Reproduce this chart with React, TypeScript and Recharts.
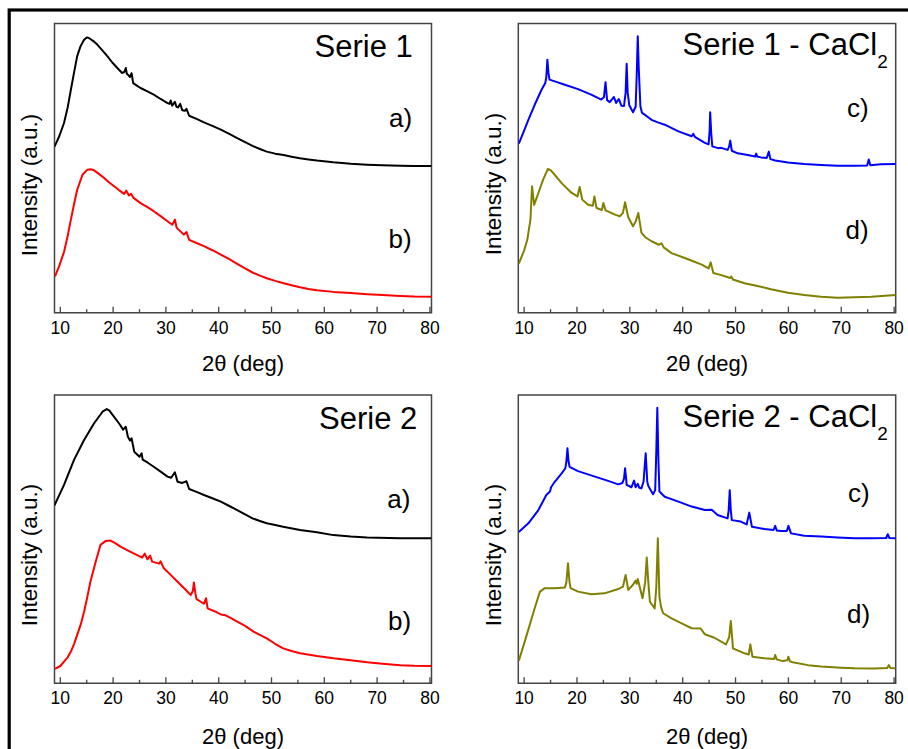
import React from 'react';
import { LineChart, Line, XAxis, YAxis, ReferenceArea } from 'recharts';

type Pt = [number, number];

// 2θ ticks (major every 10, minor every 5)
const xTicks: number[] = [10, 15, 20, 25, 30, 35, 40, 45, 50, 55, 60, 65, 70, 75, 80];
const X_DOMAIN: [number, number] = [8.9, 80.3];

// Serie 1 – a) (black)
const serie1A: Pt[] = [
  [8.9, 57.4], [9.8, 61.0], [10.7, 65.6], [11.4, 71], [12.0, 77.1], [12.6, 83], [13.2, 88.7], [13.8, 92],
  [14.5, 94.4], [15.0, 95.2], [15.4, 95.0], [16.2, 94.0], [17.0, 92.7], [18.0, 90.6], [18.9, 88.7], [19.8, 86.6],
  [20.8, 84.6], [21.7, 82.9], [22.1, 83.2], [22.4, 84.6], [22.6, 82.6], [22.8, 82.3], [23.2, 81.5], [23.5, 82.8],
  [23.8, 79.4], [24.5, 78.5], [25.2, 77.7], [26.5, 76.5], [27.7, 75.4], [29.0, 73.9], [30.3, 72.5], [30.7, 72.2],
  [30.9, 73.4], [31.2, 71.6], [31.7, 72.9], [32.0, 71.2], [32.3, 71.0], [32.7, 72.2], [33.1, 70.0], [33.6, 69.8],
  [33.9, 70.5], [34.4, 68.1], [35.8, 67.0], [37.2, 65.8], [38.8, 64.6], [40.4, 63.3], [42.0, 61.8], [43.5, 60.4],
  [45.0, 59.0], [46.4, 57.7], [47.8, 56.6], [49.1, 55.7], [50.7, 55.0], [52.3, 54.5], [53.8, 53.9], [55.4, 53.4],
  [57.0, 53.0], [58.6, 52.6], [61.7, 52.0], [65.0, 51.5], [68.1, 51.2], [71.0, 51.0], [74.4, 50.8], [77.0, 50.7],
  [80.3, 50.7],
];

// Serie 1 – b) (red)
const serie1B: Pt[] = [
  [9.0, 12.6], [9.8, 16.2], [10.7, 21.0], [11.4, 26.5], [12.0, 32.2], [12.6, 37.5], [13.2, 42.5], [14.2, 47.7],
  [15.1, 49.4], [15.8, 49.6], [16.4, 49.2], [17.3, 48.0], [18.3, 46.6], [19.2, 45.1], [20.2, 43.7], [21.1, 42.4],
  [22.1, 41.1], [22.5, 42.2], [23.0, 40.5], [23.4, 41.1], [23.8, 39.8], [25.2, 37.9], [26.5, 36.5], [27.7, 35.1],
  [29.0, 33.4], [30.3, 31.6], [31.2, 30.4], [31.7, 32.2], [32.0, 29.6], [32.3, 28.9], [33.4, 27.0], [33.9, 27.9],
  [34.4, 25.2], [35.8, 24.1], [37.2, 23.0], [38.8, 21.6], [40.4, 20.1], [42.0, 18.5], [43.5, 16.9], [45.0, 15.3],
  [46.4, 13.9], [47.8, 12.8], [49.1, 11.9], [50.7, 11.0], [52.3, 10.2], [53.8, 9.5], [55.4, 8.8], [57.0, 8.2],
  [58.6, 7.8], [61.7, 7.2], [65.0, 6.8], [68.1, 6.4], [71.0, 6.1], [74.4, 5.8], [77.0, 5.6], [80.3, 5.5],
];

// Serie 1 - CaCl2 – c) (blue)
const serie1C: Pt[] = [
  [9.0, 58.5], [10.0, 63.0], [10.8, 66.7], [12.0, 71.9], [13.3, 77.1], [14.0, 79.4], [14.2, 81.5], [14.4, 87.5],
  [14.6, 83], [14.8, 80.6], [15.8, 80.0], [17.7, 78.8], [20.2, 77.3], [22.7, 75.4], [24.6, 73.7], [25.1, 74.5],
  [25.4, 79.7], [25.7, 73.5], [26.2, 72.8], [27.0, 74.6], [27.4, 72.5], [27.9, 73.9], [28.4, 71.6], [28.9, 71.5],
  [29.2, 76], [29.4, 86.1], [29.6, 76], [29.9, 71.7], [30.6, 69.3], [31.1, 71.2], [31.3, 82], [31.5, 95.6],
  [31.7, 84], [32.0, 71.4], [32.3, 69.1], [32.8, 68.5], [34.1, 66.7], [35.3, 65.8], [36.6, 65.0], [39.2, 62.7],
  [41.7, 61.0], [42.0, 61.9], [42.3, 60.8], [44.2, 58.7], [44.9, 58.2], [45.1, 63], [45.2, 69.3], [45.4, 62],
  [45.6, 57.5], [46.7, 56.9], [47.3, 57.0], [48.5, 56.3], [48.8, 57.5], [49.0, 59.5], [49.3, 56.0], [50.4, 55.1],
  [52.3, 54.5], [53.7, 54.0], [53.9, 55.0], [54.1, 54.0], [54.8, 53.7], [55.9, 53.5], [56.3, 55.7], [56.6, 53.1],
  [57.5, 52.6], [59.9, 51.9], [63.0, 51.4], [66.2, 51.1], [69.3, 50.8], [72.5, 50.8], [74.9, 50.9], [75.2, 53.0],
  [75.5, 51.0], [77.5, 51.3], [80.3, 51.4],
];

// Serie 1 - CaCl2 – d) (olive)
const serie1D: Pt[] = [
  [9.0, 17.0], [10.0, 21.5], [10.6, 25.2], [11.2, 32.2], [11.5, 43.7], [11.9, 37.3], [12.7, 41.4], [13.6, 46.0],
  [14.5, 49.7], [15.0, 49.3], [15.5, 48.3], [17.1, 44.8], [19.0, 41.4], [20.1, 40.2], [20.5, 43.5], [21.0, 39.1],
  [22.1, 37.3], [23.0, 37.0], [23.3, 40.2], [23.7, 36.2], [24.7, 35.5], [25.0, 37.9], [25.4, 35.4], [27.2, 33.9],
  [28.1, 33.3], [28.7, 34.5], [29.1, 38.2], [29.7, 33.0], [30.6, 29.9], [31.1, 31.5], [31.6, 34.5], [32.2, 27.6],
  [33.0, 26.0], [34.1, 24.7], [35.5, 23.5], [36.0, 24.0], [36.4, 22.6], [37.9, 20.6], [40.4, 18.9], [42.0, 17.8],
  [43.6, 16.6], [44.9, 15.3], [45.3, 17.4], [45.8, 13.7], [47.3, 13.0], [49.0, 12.0], [49.2, 12.5], [49.5, 11.5],
  [51.7, 10.2], [54.8, 9.0], [56.7, 8.1], [59.9, 6.9], [63.0, 6.1], [66.2, 5.5], [69.3, 5.2], [72.5, 5.3],
  [75.7, 5.5], [80.3, 6.1],
];

// Serie 2 – a) (black)
const serie2A: Pt[] = [
  [8.9, 61.7], [10.7, 68.8], [12.6, 77.5], [14.5, 84.4], [16.4, 90.2], [18.0, 94.2], [18.8, 95.1], [19.3, 94.6],
  [19.9, 93.1], [21.1, 90.2], [21.9, 88.0], [22.4, 89.0], [22.8, 85.5], [23.2, 84.2], [23.5, 85.0], [24.0, 80.3],
  [25.0, 78.6], [25.4, 79.8], [25.6, 77.6], [26.5, 76.6], [27.7, 75.1], [29.0, 73.4], [30.3, 71.7], [31.0, 71.3],
  [31.7, 73.2], [32.2, 69.9], [33.1, 69.5], [33.9, 70.1], [34.4, 67.4], [35.8, 66.4], [37.2, 65.3], [38.8, 64.2],
  [40.4, 63.0], [42.0, 61.5], [43.5, 60.1], [45.0, 58.6], [46.4, 57.2], [47.8, 56.3], [49.1, 55.5], [50.7, 54.9],
  [52.2, 54.3], [55.4, 53.2], [58.6, 52.4], [61.7, 51.4], [65.0, 50.9], [68.1, 50.6], [74.4, 50.3], [80.3, 50.3],
];

// Serie 2 – b) (red)
const serie2B: Pt[] = [
  [9.0, 5.0], [10.0, 6.0], [10.7, 7.5], [11.4, 9.0], [12.0, 11.0], [12.6, 13.6], [13.2, 16.8], [13.9, 20.6],
  [14.5, 24.8], [15.1, 29.8], [15.7, 35.2], [16.7, 42.2], [17.6, 48.0], [18.6, 49.4], [19.5, 49.5], [20.4, 48.6],
  [21.4, 47.4], [23.3, 45.6], [25.5, 43.6], [26.0, 45.0], [26.5, 43.0], [27.0, 44.3], [27.4, 42.2], [28.7, 41.5],
  [29.0, 42.3], [29.6, 39.9], [30.9, 37.6], [32.2, 35.2], [33.5, 32.9], [34.7, 30.6], [35.1, 32], [35.3, 35.0],
  [35.6, 31], [35.8, 29.2], [37.2, 27.6], [37.6, 29.5], [37.9, 26.0], [39.2, 25.0], [40.4, 23.9], [41.3, 23.6],
  [42.4, 22.5], [43.5, 21.4], [45.0, 19.9], [46.6, 17.9], [47.8, 16.8], [49.1, 15.6], [50.6, 13.8], [52.2, 12.1],
  [53.8, 11.2], [55.4, 10.4], [56.3, 10.2], [58.6, 9.5], [61.7, 8.7], [65.0, 8.0], [68.1, 7.3], [71.0, 6.8],
  [74.4, 6.3], [77.0, 6.1], [80.3, 6.0],
];

// Serie 2 - CaCl2 – c) (blue)
const serie2C: Pt[] = [
  [9.0, 52.5], [10.8, 55.5], [12.7, 60.1], [14.2, 65.3], [14.9, 66.5], [15.1, 68.0], [15.8, 69.9], [17.1, 72.8],
  [17.8, 74.6], [18.0, 77], [18.2, 81.5], [18.4, 77], [18.6, 75.1], [20.2, 73.6], [23.4, 71.7], [25.9, 70.2],
  [27.8, 69.0], [28.6, 69.5], [28.9, 71], [29.1, 74.6], [29.3, 71], [29.4, 68.8], [30.3, 68.0], [30.8, 70.3],
  [31.1, 68.0], [31.5, 69.2], [31.8, 67.8], [32.2, 67.6], [32.6, 70], [33.0, 79.8], [33.3, 70], [33.5, 68.4],
  [34.4, 65.6], [34.8, 67], [35.0, 80], [35.2, 95.6], [35.4, 78], [35.6, 66.5], [36.6, 64.7], [39.2, 63.0],
  [41.7, 61.3], [44.2, 60.1], [45.5, 60.2], [46.6, 58.4], [48.5, 57.2], [48.7, 60], [48.9, 67.0], [49.1, 60],
  [49.3, 56.6], [51.0, 56.1], [52.1, 55.1], [52.6, 59.2], [53.1, 54.3], [55.5, 53.5], [57.2, 53.2], [57.5, 54.6],
  [57.8, 53.0], [58.6, 52.8], [59.7, 52.8], [60.0, 54.6], [60.5, 52.0], [63.0, 51.2], [66.2, 50.9], [69.3, 50.6],
  [72.5, 50.3], [75.7, 50.3], [78.5, 50.4], [78.8, 51.7], [79.1, 50.4], [80.3, 50.3],
];

// Serie 2 - CaCl2 – d) (olive)
const serie2D: Pt[] = [
  [9.0, 7.8], [10.5, 16.8], [11.8, 24.8], [12.5, 29.0], [13.0, 31.8], [13.9, 33.0], [15.8, 33.0], [17.7, 33.2],
  [18.0, 35], [18.3, 41.6], [18.6, 35], [18.8, 33.0], [20.2, 31.8], [22.7, 30.9], [25.2, 31.2], [27.8, 32.7],
  [28.7, 33.5], [29.2, 37.6], [29.7, 32.4], [30.6, 34.2], [31.1, 35.6], [31.3, 34.5], [31.5, 36.2], [32.4, 29.5],
  [32.9, 35], [33.2, 43.6], [33.5, 35], [33.8, 28.3], [34.7, 26.0], [35.0, 33], [35.3, 50.3], [35.6, 30],
  [35.9, 26.5], [36.3, 24.3], [37.9, 22.5], [39.8, 20.8], [41.7, 19.1], [43.4, 19.0], [44.2, 17.0], [46.0, 15.8],
  [48.2, 13.5], [48.8, 16], [49.1, 21.6], [49.4, 15], [49.5, 12.1], [51.7, 10.4], [52.5, 10.0], [52.8, 13.5],
  [53.2, 9.2], [55.5, 8.7], [57.3, 8.4], [57.5, 9.8], [57.8, 8.3], [58.9, 7.7], [59.8, 8.0], [60.0, 9.2],
  [60.3, 7.6], [60.8, 7.3], [63.7, 6.3], [66.2, 5.8], [70.0, 5.4], [72.5, 5.2], [76.3, 5.1], [78.7, 5.3],
  [79.0, 6.3], [79.3, 5.3], [80.3, 5.2],
];

const BLACK = '#000000';
const RED = '#ff0000';
const BLUE = '#0000ff';
const OLIVE = '#808000';
const FRAME = '#444444';
const FONT = '"Liberation Sans", Arial, Helvetica, sans-serif';

const toRows = (pts: Pt[]) => pts.map(([x, y]) => ({ x, y }));

const AxisTick = (props: any) => {
  const { x, y, payload } = props;
  const v = payload.value as number;
  const major = v % 10 === 0;
  return (
    <g>
      <line x1={x} x2={x} y1={y} y2={y - (major ? 6 : 3.5)} stroke={FRAME} strokeWidth={1.3} />
      {major && (
        <text x={x} y={y + 21} textAnchor="middle" fontSize={17.5} fontFamily={FONT} fill="#000">
          {v}
        </text>
      )}
    </g>
  );
};

type Series = { data: Pt[]; color: string };

function Panel(props: {
  left: number;
  top: number;
  margin: { top: number; right: number; bottom: number; left: number };
  series: Series[];
}) {
  const { left, top, margin, series } = props;
  return (
    <div style={{ position: 'absolute', left, top, width: 454, height: 375 }}>
      <LineChart width={454} height={375} margin={margin}>
        <XAxis
          type="number"
          dataKey="x"
          domain={X_DOMAIN}
          allowDataOverflow
          ticks={xTicks}
          interval={0}
          tickLine={false}
          axisLine={false}
          tickSize={0}
          tickMargin={0}
          tick={AxisTick}
          height={30}
        />
        <YAxis type="number" dataKey="y" domain={[0, 100]} allowDataOverflow hide />
        <ReferenceArea
          x1={X_DOMAIN[0]}
          x2={X_DOMAIN[1]}
          y1={0}
          y2={100}
          fill="none"
          fillOpacity={0}
          stroke={FRAME}
          strokeWidth={1.5}
          ifOverflow="visible"
        />
        {series.map((s, i) => (
          <Line
            key={i}
            data={toRows(s.data)}
            dataKey="y"
            type="linear"
            stroke={s.color}
            strokeWidth={2}
            strokeLinejoin="round"
            dot={false}
            activeDot={false}
            isAnimationActive={false}
          />
        ))}
      </LineChart>
    </div>
  );
}

export default function App() {
  const txt = { fontFamily: FONT, fill: '#000' } as const;
  return (
    <div style={{ position: 'absolute', left: 0, top: 0, width: 908, height: 749, background: '#fff', overflow: 'hidden' }}>
      <Panel
        left={0}
        top={0}
        margin={{ top: 23.5, right: 22.5, bottom: 32.3, left: 54.5 }}
        series={[{ data: serie1A, color: BLACK }, { data: serie1B, color: RED }]}
      />
      <Panel
        left={454}
        top={0}
        margin={{ top: 23.5, right: 12.3, bottom: 32.3, left: 64.3 }}
        series={[{ data: serie1C, color: BLUE }, { data: serie1D, color: OLIVE }]}
      />
      <Panel
        left={0}
        top={375}
        margin={{ top: 20, right: 22.5, bottom: 36.7, left: 54.5 }}
        series={[{ data: serie2A, color: BLACK }, { data: serie2B, color: RED }]}
      />
      <Panel
        left={454}
        top={375}
        margin={{ top: 20, right: 12.3, bottom: 36.7, left: 64.3 }}
        series={[{ data: serie2C, color: BLUE }, { data: serie2D, color: OLIVE }]}
      />
      <svg
        width={908}
        height={749}
        style={{ position: 'absolute', left: 0, top: 0, pointerEvents: 'none' }}
      >
        <rect x={9.2} y={10} width={1200} height={1200} fill="none" stroke="#000" strokeWidth={3.2} />

        {/* titles */}
        <text x={314.5} y={57} fontSize={31} {...txt}>Serie 1</text>
        <text x={682.5} y={55} fontSize={31} {...txt}>
          Serie 1 - CaCl<tspan fontSize={19} dy={13}>2</tspan>
        </text>
        <text x={319} y={429.3} fontSize={31} {...txt}>Serie 2</text>
        <text x={682.5} y={426.7} fontSize={31} {...txt}>
          Serie 2 - CaCl<tspan fontSize={19} dy={13}>2</tspan>
        </text>

        {/* curve labels */}
        <text x={389} y={127} fontSize={26} {...txt}>a)</text>
        <text x={388.5} y={248.3} fontSize={26} {...txt}>b)</text>
        <text x={847} y={117.3} fontSize={26} {...txt}>c)</text>
        <text x={845.5} y={239.3} fontSize={26} {...txt}>d)</text>
        <text x={387.3} y={508.3} fontSize={26} {...txt}>a)</text>
        <text x={388} y={630} fontSize={26} {...txt}>b)</text>
        <text x={848} y={501.7} fontSize={26} {...txt}>c)</text>
        <text x={847} y={623.3} fontSize={26} {...txt}>d)</text>

        {/* x axis titles */}
        <text x={243} y={371} fontSize={22} textAnchor="middle" {...txt}>2θ (deg)</text>
        <text x={707} y={371} fontSize={22} textAnchor="middle" {...txt}>2θ (deg)</text>
        <text x={243} y={744} fontSize={22} textAnchor="middle" {...txt}>2θ (deg)</text>
        <text x={707} y={744} fontSize={22} textAnchor="middle" {...txt}>2θ (deg)</text>

        {/* y axis titles */}
        <text x={0} y={0} fontSize={22.5} textAnchor="middle" transform="translate(37.3,185) rotate(-90)" {...txt}>Intensity (a.u.)</text>
        <text x={0} y={0} fontSize={22.5} textAnchor="middle" transform="translate(500.7,184) rotate(-90)" {...txt}>Intensity (a.u.)</text>
        <text x={0} y={0} fontSize={22.5} textAnchor="middle" transform="translate(37.3,555) rotate(-90)" {...txt}>Intensity (a.u.)</text>
        <text x={0} y={0} fontSize={22.5} textAnchor="middle" transform="translate(500.7,555) rotate(-90)" {...txt}>Intensity (a.u.)</text>
      </svg>
    </div>
  );
}
